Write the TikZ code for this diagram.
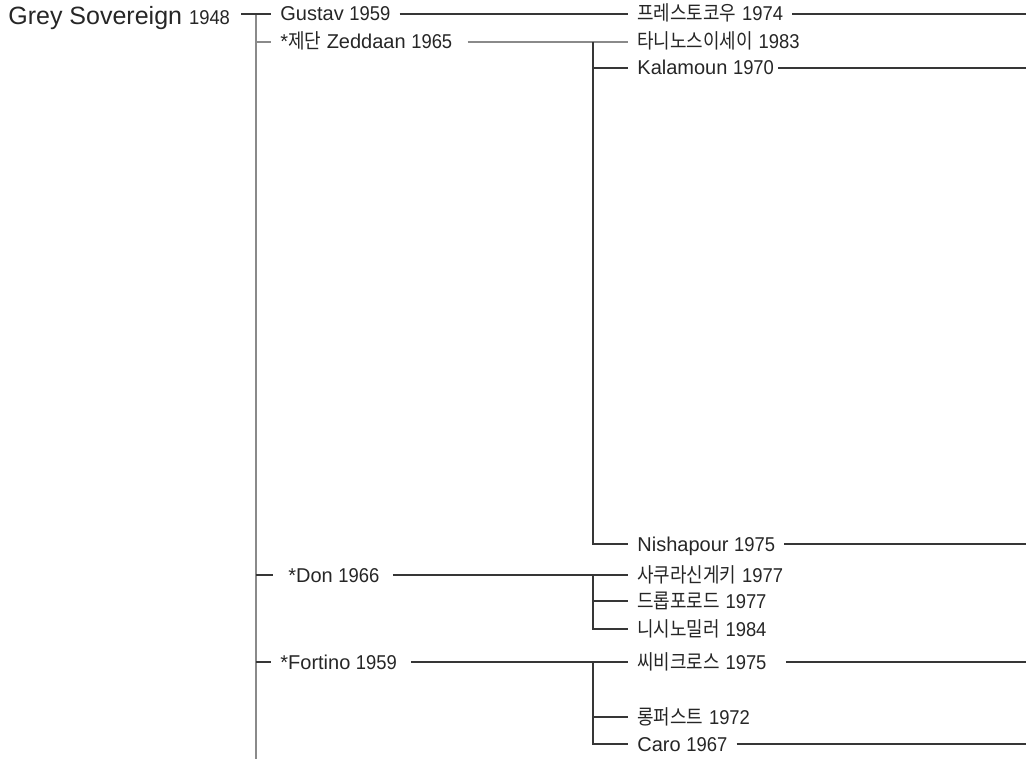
\documentclass[tikz,border=0pt]{standalone}
\usepackage{fontspec}
\setmainfont{Liberation Sans}
\newfontfamily\hangul[FakeStretch=0.88]{Noto Sans CJK KR}
\newfontfamily\cifras[FakeStretch=0.92]{Liberation Sans}
\usetikzlibrary{positioning,calc}
\definecolor{tinta}{HTML}{262626}
\definecolor{linea}{HTML}{363636}
\definecolor{gris}{HTML}{8A8A8A}
\newcommand{\ano}[1]{{\cifras\fontsize{10}{11}\selectfont #1}}
\newcommand{\kor}[1]{{\hangul\fontsize{10.2}{11}\selectfont #1}}

\begin{document}
\begin{tikzpicture}[x=0.5pt, y=-0.5pt, font=\fontsize{10}{12}\selectfont,
    caballo/.style={anchor=west, inner xsep=4.5pt, inner ysep=0pt,
      text height=7pt, text depth=0pt, text=tinta},
    rama/.style={draw=linea, line width=0.55pt},
    ramagris/.style={draw=gris, line width=0.6pt}]
  \useasboundingbox (0,0) rectangle (1026,759);

  % padre y tronco
  \node[caballo, inner xsep=0pt, text height=9pt, font=\fontsize{12.5}{15}\selectfont]
    (grey) at (8,16) {Grey Sovereign \ano{1948}};
  \coordinate (tronco) at (256,14);
  \coordinate (pie) at (256,759);
  \draw[ramagris] (tronco) -- (pie);

  % primera generacion
  \node[caballo] (gustav) at (271,14) {Gustav \ano{1959}};
  \node[caballo] (zeddaan) at (271,42) {*\kor{제단} Zeddaan \ano{1965}};
  \node[caballo] (don) at (279,575) {*Don \ano{1966}};
  \node[caballo] (fortino) at (271,662) {*Fortino \ano{1959}};

  % segunda generacion
  \foreach \n/\y/\t in {
      presto/14/{\kor{프레스토코우} \ano{1974}},
      tani/42/{\kor{타니노스이세이} \ano{1983}},
      kala/68/{Kalamoun \ano{1970}},
      nisha/544/{Nishapour \ano{1975}},
      sakura/575/{\kor{사쿠라신게키} \ano{1977}},
      drop/601/{\kor{드롭포로드} \ano{1977}},
      nishino/629/{\kor{니시노밀러} \ano{1984}},
      cbi/662/{\kor{씨비크로스} \ano{1975}},
      rong/717/{\kor{롱퍼스트} \ano{1972}},
      caro/744/{Caro \ano{1967}}}
    \node[caballo] (\n) at (628,\y) {\t};

  \coordinate (nudoz) at (593,42);
  \coordinate (nudod) at (593,575);
  \coordinate (nudof) at (593,662);
  \foreach \n in {presto,kala,nisha,cbi,caro}
    \coordinate (fin\n) at (1026,0 |- \n);

  % conectores
  \draw[rama, shorten <=5.5pt] (grey.east |- gustav) -- (gustav.west);
  \draw[rama] (gustav) -- (presto);
  \draw[ramagris] (tronco |- zeddaan) -- (zeddaan.west);
  \draw[ramagris, shorten <=3pt] (zeddaan) -- (tani);
  \draw[rama] (nudoz) |- (nisha.west);
  \draw[rama] (nudoz |- kala) -- (kala.west);
  \draw[rama, shorten >=3pt] (tronco |- don) -- (don.west);
  \draw[rama, shorten <=2pt] (don) -- (sakura);
  \draw[rama] (nudod) |- (nishino.west);
  \draw[rama] (nudod |- drop) -- (drop.west);
  \draw[rama] (tronco |- fortino) -- (fortino.west);
  \draw[rama, shorten <=2.5pt] (fortino) -- (cbi);
  \draw[rama] (nudof) |- (caro.west);
  \draw[rama] (nudof |- rong) -- (rong.west);

  \draw[rama] (presto) -- (finpresto);
  \draw[rama, shorten <=-2.5pt] (kala) -- (finkala);
  \draw[rama] (nisha) -- (finnisha);
  \draw[rama, shorten <=5pt] (cbi) -- (fincbi);
  \draw[rama] (caro) -- (fincaro);
\end{tikzpicture}
\end{document}
